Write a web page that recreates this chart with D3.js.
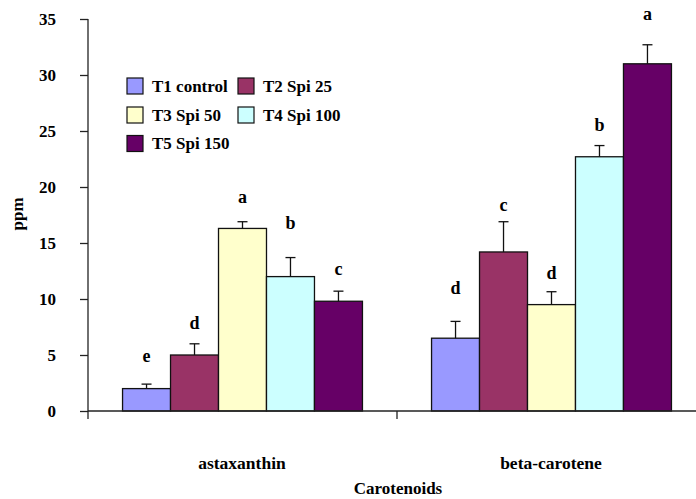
<!DOCTYPE html>
<html>
<head>
<meta charset="utf-8">
<script src="https://cdn.jsdelivr.net/npm/d3@7"></script>
<style>
  body { margin: 0; background: #fff; }
</style>
</head>
<body>
<div id="chart"></div>
<script>
// chart data
const categories = ['astaxanthin', 'beta-carotene'];
const seriesNames = ['T1 control', 'T2 Spi 25', 'T3 Spi 50', 'T4 Spi 100', 'T5 Spi 150'];
const seriesColors = ['#9999FF', '#993366', '#FFFFCC', '#CCFFFF', '#660066'];
// values per series: [astaxanthin, beta-carotene]
const means = [
  [2.0, 6.5],
  [5.0, 14.2],
  [16.3, 9.5],
  [12.0, 22.7],
  [9.8, 31.0]
];
const errors = [
  [0.4, 1.5],
  [1.0, 2.7],
  [0.6, 1.15],
  [1.7, 1.0],
  [0.9, 1.7]
];
// significance letters and the value height where each sits
const letters = [
  ['e', 'd'],
  ['d', 'c'],
  ['a', 'd'],
  ['b', 'b'],
  ['c', 'a']
];
const letterAt = [
  [4.85, 10.95],
  [7.85, 18.4],
  [19.1, 12.3],
  [16.8, 25.5],
  [12.7, 35.4]
];
const yTicks = [0, 5, 10, 15, 20, 25, 30, 35];

const FONT = 'Liberation Serif';
const width = 696, height = 499;
const margin = { top: 19, left: 88, bottom: 88 };
const plotRight = 706; // axis runs off the right edge in the original

const svg = d3.select('#chart').append('svg')
  .attr('width', width)
  .attr('height', height)
  .attr('font-family', FONT)
  .attr('font-weight', 'bold');

const y = d3.scaleLinear().domain([0, 35]).range([height - margin.bottom, margin.top]);
const x0 = d3.scaleBand().domain(categories).range([margin.left, plotRight]).padding(0);
const x1 = d3.scaleBand().domain(seriesNames).range([0, x0.bandwidth()])
  .paddingInner(0).paddingOuter(0.72);

// bars
const rows = [];
seriesNames.forEach((s, i) => {
  categories.forEach((c, j) => {
    rows.push({ s: s, c: c, i: i, v: means[i][j], e: errors[i][j], l: letters[i][j], la: letterAt[i][j] });
  });
});

const g = svg.append('g');

g.selectAll('rect.bar')
  .data(rows).enter().append('rect')
  .attr('class', 'bar')
  .attr('x', d => x0(d.c) + x1(d.s))
  .attr('y', d => y(d.v))
  .attr('width', x1.bandwidth())
  .attr('height', d => y(0) - y(d.v))
  .attr('fill', d => seriesColors[d.i])
  .attr('stroke', '#111')
  .attr('stroke-width', 1.3);

// error bars (upper half only)
const capW = 10;
rows.forEach(d => {
  const cx = x0(d.c) + x1(d.s) + x1.bandwidth() / 2;
  g.append('line')
    .attr('x1', cx).attr('x2', cx)
    .attr('y1', y(d.v)).attr('y2', y(d.v + d.e))
    .attr('stroke', '#111').attr('stroke-width', 1.3);
  g.append('line')
    .attr('x1', cx - capW / 2).attr('x2', cx + capW / 2)
    .attr('y1', y(d.v + d.e)).attr('y2', y(d.v + d.e))
    .attr('stroke', '#111').attr('stroke-width', 1.3);
  g.append('text')
    .attr('x', cx)
    .attr('y', y(d.la))
    .attr('dy', '0.32em')
    .attr('text-anchor', 'middle')
    .attr('font-size', 18)
    .text(d.l);
});

// y axis
const yAxis = svg.append('g')
  .attr('transform', 'translate(' + margin.left + ',0)')
  .call(d3.axisLeft(y).tickValues(yTicks).tickSize(8).tickPadding(24));
yAxis.attr('font-family', FONT).attr('font-size', 17);
yAxis.selectAll('path, line').attr('stroke', '#222').attr('stroke-width', 1.3);
yAxis.select('.domain').attr('d', 'M0,' + y(0) + 'V' + y(35));
yAxis.selectAll('text').attr('fill', '#000');

// x axis: ticks on the category boundaries
const xAxis = svg.append('g')
  .attr('transform', 'translate(0,' + y(0) + ')');
xAxis.append('line')
  .attr('x1', margin.left).attr('x2', plotRight)
  .attr('y1', 0).attr('y2', 0)
  .attr('stroke', '#222').attr('stroke-width', 1.3);
const bounds = categories.map(c => x0(c)).concat([x0(categories[categories.length - 1]) + x0.bandwidth()]);
xAxis.selectAll('line.tick')
  .data(bounds).enter().append('line')
  .attr('class', 'tick')
  .attr('x1', d => d).attr('x2', d => d)
  .attr('y1', 0).attr('y2', 8)
  .attr('stroke', '#222').attr('stroke-width', 1.3);

svg.selectAll('text.cat')
  .data(categories).enter().append('text')
  .attr('class', 'cat')
  .attr('x', d => x0(d) + x0.bandwidth() / 2 - 0.5)
  .attr('y', 469)
  .attr('text-anchor', 'middle')
  .attr('font-size', 17.5)
  .text(d => d);

// axis titles
svg.append('text')
  .attr('x', 398)
  .attr('y', 494)
  .attr('text-anchor', 'middle')
  .attr('font-size', 17)
  .text('Carotenoids');

svg.append('text')
  .attr('transform', 'translate(23,214) rotate(-90)')
  .attr('text-anchor', 'middle')
  .attr('font-size', 17)
  .text('ppm');

// legend
const legend = svg.append('g');
const legendPos = [[127, 86], [238, 86], [127, 115], [238, 115], [127, 143.5]];
seriesNames.forEach((s, i) => {
  const item = legend.append('g')
    .attr('transform', 'translate(' + legendPos[i][0] + ',' + legendPos[i][1] + ')');
  item.append('rect')
    .attr('x', 0).attr('y', -8)
    .attr('width', 16).attr('height', 16)
    .attr('fill', seriesColors[i])
    .attr('stroke', '#111').attr('stroke-width', 1.2);
  item.append('text')
    .attr('x', 25).attr('y', 0)
    .attr('dy', '0.35em')
    .attr('font-size', 17)
    .text(s);
});
</script>
</body>
</html>
